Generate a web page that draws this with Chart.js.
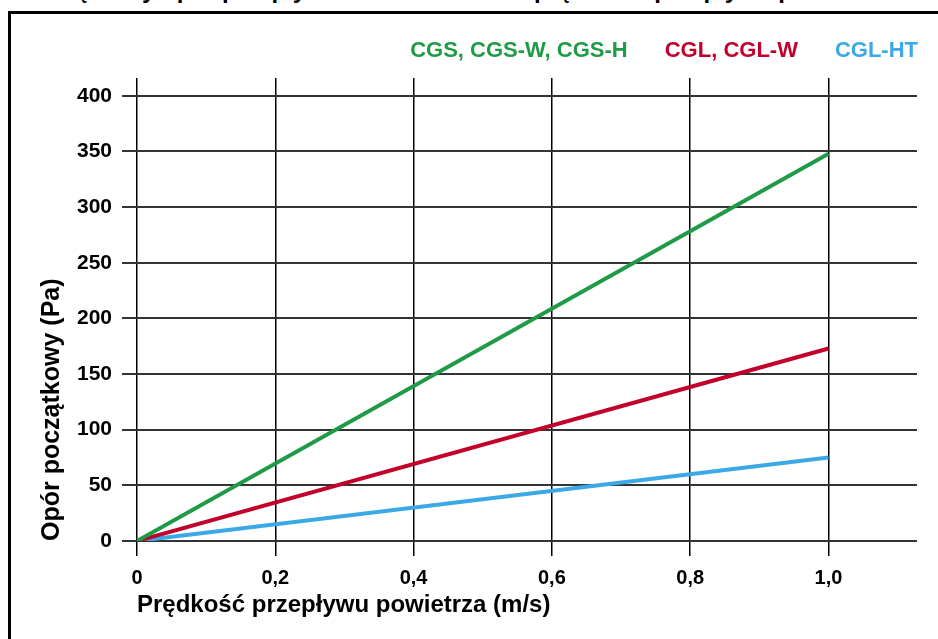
<!DOCTYPE html>
<html lang="pl">
<head>
    <meta charset="UTF-8">
    <title>Opor poczatkowy</title>
    <style>
        body {
            margin: 0;
            width: 938px;
            height: 639px;
            overflow: hidden;
            background: #fff;
            position: relative;
            font-family: "Liberation Sans", Arial, sans-serif;
        }
        #title {
            position: absolute;
            left: 18px;
            top: -22px;
            font-size: 24px;
            line-height: 1;
            font-weight: bold;
            white-space: nowrap;
            color: #000;
        }
        #frame {
            position: absolute;
            left: 8px;
            top: 11px;
            width: 1000px;
            height: 700px;
            border: 3px solid #000;
            background: #fff;
        }
        #myChart {
            position: absolute;
            left: 0;
            top: 0;
        }
    </style>
</head>
<body>
    <div id="title">Początkowy opór przepływu w zależności od prędkości przepływu powietrza</div>
    <div id="frame"></div>
    <canvas id="myChart" width="938" height="639"></canvas>

    <script src="https://cdn.jsdelivr.net/npm/chart.js"></script>
    <script>
    // data
    var speeds = [0, 1.0];
    var cgsValues = [0, 348];
    var cglValues = [0, 173];
    var cglhtValues = [0, 75];
    var seriesNames = ['CGS, CGS-W, CGS-H', 'CGL, CGL-W', 'CGL-HT'];
    var seriesColors = ['#1f9a46', '#c1002c', '#3aa9e6'];
    var xTicks = [0, 0.2, 0.4, 0.6, 0.8, 1.0];
    var yTicks = [0, 50, 100, 150, 200, 250, 300, 350, 400];

    function toPoints(values) {
        return values.map(function(v, i) { return { x: speeds[i], y: v }; });
    }

    var datasets = [cgsValues, cglValues, cglhtValues].map(function(values, i) {
        return {
            label: seriesNames[i],
            data: toPoints(values),
            borderColor: seriesColors[i],
            backgroundColor: seriesColors[i],
            borderWidth: 4,
            pointRadius: 0,
            tension: 0
        };
    });

    var font = 'Liberation Sans, Arial, sans-serif';

    // legend sits flush with the right end of the grid, a bit higher
    var legendShift = {
        id: 'legendShift',
        afterLayout: function(chart) {
            var lg = chart.legend;
            lg.left += 27;
            lg.right += 27;
            lg.top -= 6;
            lg.bottom -= 6;
        }
    };

    var config = {
        type: 'line',
        data: { datasets: datasets },
        plugins: [legendShift],
        options: {
            responsive: false,
            animation: false,
            devicePixelRatio: 1,
            layout: { padding: { left: 0, right: 21, top: 20, bottom: 0 } },
            plugins: {
                tooltip: { enabled: false },
                legend: {
                    position: 'top',
                    align: 'end',
                    labels: {
                        boxWidth: 0,
                        boxHeight: 0,
                        padding: 26,
                        font: { family: font, size: 22, weight: 'bold' },
                        generateLabels: function(chart) {
                            return chart.data.datasets.map(function(ds, i) {
                                return {
                                    text: ds.label,
                                    fontColor: ds.borderColor,
                                    fillStyle: 'rgba(0,0,0,0)',
                                    strokeStyle: 'rgba(0,0,0,0)',
                                    lineWidth: 0,
                                    hidden: false,
                                    datasetIndex: i
                                };
                            });
                        }
                    }
                }
            },
            scales: {
                x: {
                    type: 'linear',
                    min: 0,
                    max: 1.128,
                    afterBuildTicks: function(scale) {
                        scale.ticks = xTicks.map(function(v) { return { value: v }; });
                    },
                    afterFit: function(scale) { scale.height = 98; },
                    border: { display: false },
                    grid: {
                        color: '#000',
                        lineWidth: 1.5,
                        tickLength: 15,
                        tickColor: '#000'
                    },
                    ticks: {
                        padding: 10,
                        color: '#000',
                        font: { family: font, size: 20, weight: 'bold' },
                        maxRotation: 0,
                        callback: function(v) {
                            return v === 0 ? '0' : v.toFixed(1).replace('.', ',');
                        }
                    },
                    title: {
                        display: true,
                        text: 'Prędkość przepływu powietrza (m/s)',
                        align: 'start',
                        color: '#000',
                        font: { family: font, size: 24, weight: 'bold' },
                        padding: { top: 0, bottom: 19 }
                    }
                },
                y: {
                    min: 0,
                    max: 416,
                    afterBuildTicks: function(scale) {
                        scale.ticks = yTicks.map(function(v) { return { value: v }; });
                    },
                    afterFit: function(scale) { scale.width = 137; },
                    border: { display: false },
                    grid: {
                        color: '#333',
                        lineWidth: 2,
                        tickLength: 15,
                        tickColor: '#333'
                    },
                    ticks: {
                        padding: 10,
                        color: '#000',
                        font: { family: font, size: 21, weight: 'bold' }
                    },
                    title: {
                        display: true,
                        text: 'Opór początkowy (Pa)',
                        align: 'start',
                        color: '#000',
                        font: { family: font, size: 25, weight: 'bold' },
                        padding: { top: 37, bottom: 0 }
                    }
                }
            }
        }
    };

    var ctx = document.getElementById('myChart').getContext('2d');
    window.myChart = new Chart(ctx, config);
    </script>
</body>
</html>
